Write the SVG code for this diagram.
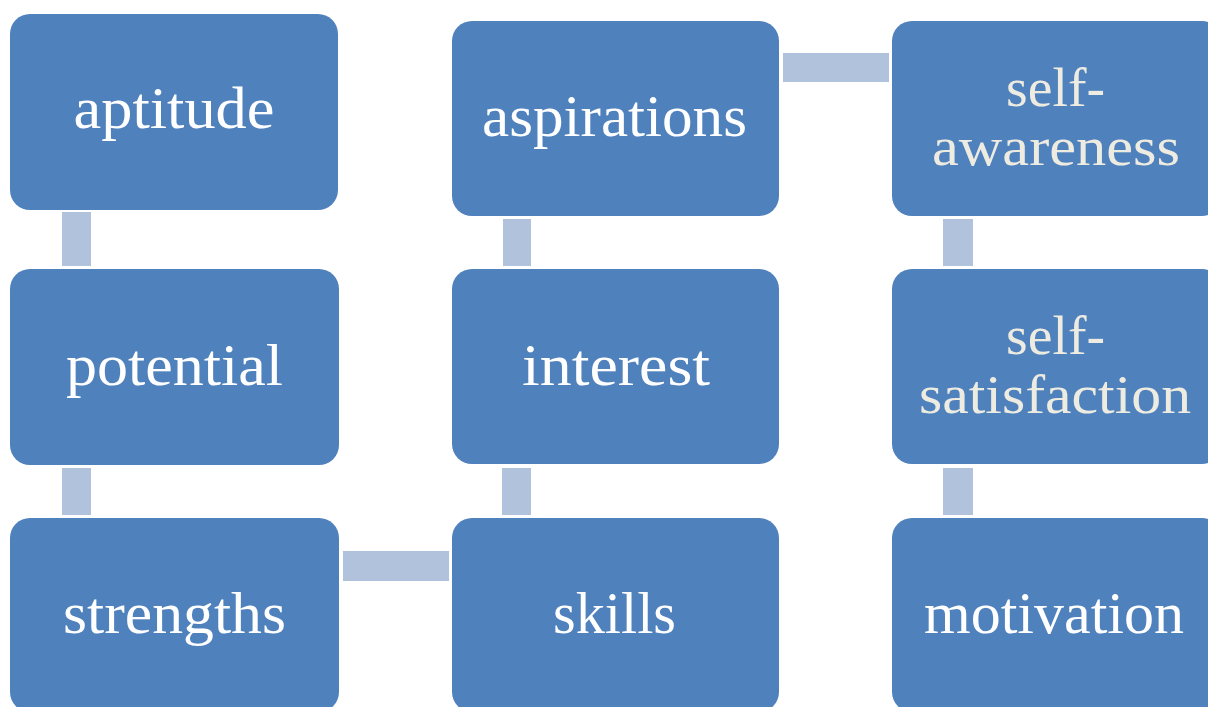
<svg xmlns="http://www.w3.org/2000/svg" width="1208" height="707" viewBox="0 0 1208 707">
<style>
.box{fill:#4F81BD;}
.con{fill:#B1C2DD;}
.t{font-family:"Liberation Serif","Times New Roman",serif;font-size:60px;text-anchor:middle;fill:#FFFFFF;}
.b{fill:#EEECE1;font-size:55px;}
</style>
<rect width="1208" height="707" fill="#FFFFFF"/>
<g id="connectors">
<rect class="con" x="62" y="212" width="29" height="54"/>
<rect class="con" x="62" y="468" width="29" height="47"/>
<rect class="con" x="343" y="551" width="106" height="30"/>
<rect class="con" x="502" y="468" width="29" height="47"/>
<rect class="con" x="503" y="219" width="28" height="47"/>
<rect class="con" x="783" y="53" width="106" height="29"/>
<rect class="con" x="943" y="219" width="30" height="47"/>
<rect class="con" x="943" y="468" width="30" height="47"/>
</g>
<g id="aptitude">
<rect class="box" x="10" y="14" width="328" height="196" rx="20"/>
<text class="t" x="174" y="128" textLength="201" lengthAdjust="spacingAndGlyphs">aptitude</text>
</g>
<g id="potential">
<rect class="box" x="10" y="269" width="329" height="196" rx="20"/>
<text class="t" x="174.5" y="385" textLength="217" lengthAdjust="spacingAndGlyphs">potential</text>
</g>
<g id="strengths">
<rect class="box" x="10" y="518" width="329" height="194" rx="20"/>
<text class="t" x="174.5" y="633" textLength="223" lengthAdjust="spacingAndGlyphs">strengths</text>
</g>
<g id="aspirations">
<rect class="box" x="452" y="21" width="327" height="195" rx="20"/>
<text class="t" x="614.5" y="136" textLength="265" lengthAdjust="spacingAndGlyphs">aspirations</text>
</g>
<g id="interest">
<rect class="box" x="452" y="269" width="327" height="195" rx="20"/>
<text class="t" x="616" y="385" textLength="188" lengthAdjust="spacingAndGlyphs">interest</text>
</g>
<g id="skills">
<rect class="box" x="452" y="518" width="327" height="194" rx="20"/>
<text class="t" x="614.5" y="633" textLength="123" lengthAdjust="spacingAndGlyphs">skills</text>
</g>
<g id="self-awareness">
<rect class="box" x="892" y="21" width="330" height="195" rx="20"/>
<text class="t b" x="1055.5" y="106" textLength="99" lengthAdjust="spacingAndGlyphs">self-</text>
<text class="t b" x="1056" y="165" textLength="248" lengthAdjust="spacingAndGlyphs">awareness</text>
</g>
<g id="self-satisfaction">
<rect class="box" x="892" y="269" width="330" height="195" rx="20"/>
<text class="t b" x="1055.5" y="354" textLength="99" lengthAdjust="spacingAndGlyphs">self-</text>
<text class="t b" x="1055" y="413" textLength="272" lengthAdjust="spacingAndGlyphs">satisfaction</text>
</g>
<g id="motivation">
<rect class="box" x="892" y="518" width="330" height="194" rx="20"/>
<text class="t" x="1054" y="633" textLength="260" lengthAdjust="spacingAndGlyphs">motivation</text>
</g>
</svg>
